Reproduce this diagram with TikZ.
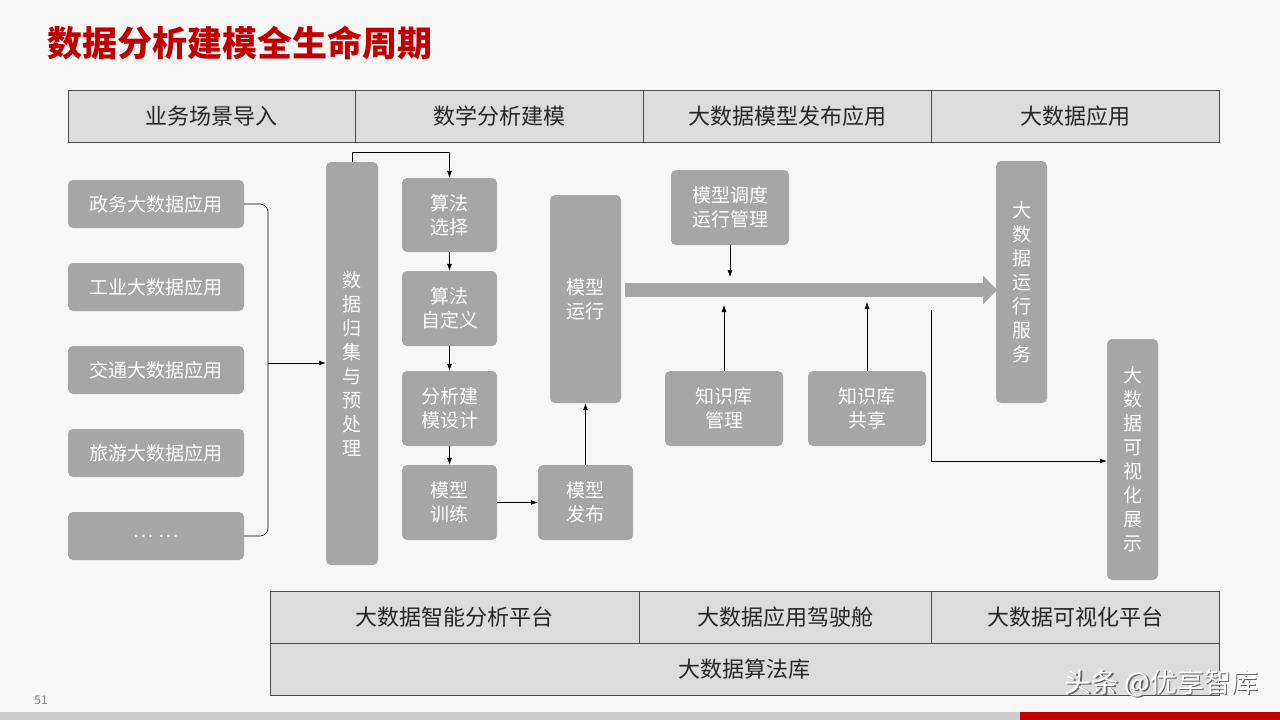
\documentclass[tikz,border=0pt]{standalone}
\usepackage{fontspec}
\setmainfont{Noto Sans CJK SC}
\usetikzlibrary{arrows.meta}
\definecolor{boxg}{HTML}{A6A6A6}
\definecolor{hdr}{HTML}{DCDCDC}
\definecolor{ttl}{HTML}{C00000}
\begin{document}
\begin{tikzpicture}[x=1pt,y=-1pt,
 gbox/.style={draw=none,fill=boxg,rounded corners=5pt,text=white,font=\fontsize{19}{24}\selectfont,align=center,inner sep=0pt},
 cell/.style={draw=black!70,fill=hdr,font=\fontsize{22}{26}\selectfont,text=black!85,inner sep=0pt},
 ar/.style={-{Latex[length=7pt,width=5pt]},black,line width=0.6pt}]
\useasboundingbox (0,0) rectangle (1280,720);
\fill[white!97!black] (0,0) rectangle (1280,720);
\fill[black!20] (0,712) rectangle (1280,720);
\fill[ttl] (1020,712) rectangle (1280,720);
\node[anchor=west,text=ttl,font=\fontsize{35}{38}\selectfont\bfseries] (title) at (44,43) {数据分析建模全生命周期};
\node[text=black!50,font=\fontsize{12}{14}\selectfont] (pg) at (41,700) {51};
% header
\foreach \a/\b/\t/\n in {68/355/业务场景导入/h1,355/643/数学分析建模/h2,643/931/大数据模型发布应用/h3,931/1219/大数据应用/h4}
 \node[cell,minimum width=\b-\a,minimum height=52] (\n) at ({(\a+\b)/2},116) {\t};
% bottom
\node[cell,minimum width=369,minimum height=52] (b1) at (454.5,617) {大数据智能分析平台};
\node[cell,minimum width=292,minimum height=52] (b2) at (785,617) {大数据应用驾驶舱};
\node[cell,minimum width=288,minimum height=52] (b3) at (1075,617) {大数据可视化平台};
\node[cell,minimum width=949,minimum height=52] (b4) at (744.5,669) {大数据算法库};
% left boxes
\foreach \y/\t/\n in {204/政务大数据应用/l1,287/工业大数据应用/l2,370/交通大数据应用/l3,453/旅游大数据应用/l4,536/… …/l5}
 \node[gbox,minimum width=176,minimum height=48] (\n) at (156,\y) {\t};
\draw[black,line width=0.6pt,rounded corners=8pt] (l1.east) -- (268,204) -- (268,536) -- (l5.east);
\coordinate (jn) at (268,363);
% vertical box
\node[gbox,minimum width=52,minimum height=403] (dp) at (352,363.5) {数\\据\\归\\集\\与\\预\\处\\理};
\draw[ar] (jn) -- (dp.west|-jn);
% column
\node[gbox,minimum width=95,minimum height=74] (c1) at (449.5,215) {算法\\选择};
\node[gbox,minimum width=95,minimum height=75] (c2) at (449.5,308.5) {算法\\自定义};
\node[gbox,minimum width=95,minimum height=75] (c3) at (449.5,408.5) {分析建\\模设计};
\node[gbox,minimum width=95,minimum height=75] (c4) at (449.5,502.5) {模型\\训练};
\node[gbox,minimum width=95,minimum height=75] (fb) at (585.5,502.5) {模型\\发布};
\node[gbox,minimum width=71,minimum height=208] (yx) at (585.5,299) {模型\\运行};
\draw[black,line width=0.6pt] (dp.north) -- (352,152) -- (449.5,152);
\draw[ar] (449.5,152) -- (c1.north);
\draw[ar] (c1) -- (c2); \draw[ar] (c2) -- (c3); \draw[ar] (c3) -- (c4);
\draw[ar] (c4) -- (fb);
\draw[ar] (fb) -- (yx);
% big arrow
\coordinate (bs) at (625,290);
\coordinate (be) at (997,290);
\draw[boxg,line width=14pt,-{Triangle[length=14pt,width=28pt]}] (bs) -- (be);
\node[gbox,minimum width=118,minimum height=75] (dd) at (730,207.5) {模型调度\\运行管理};
\node[gbox,minimum width=118,minimum height=75] (zg) at (724,408.5) {知识库\\管理};
\node[gbox,minimum width=118,minimum height=75] (zs) at (867,408.5) {知识库\\共享};
\coordinate (ddt) at (730,277);
\coordinate (zgt) at (724,305);
\coordinate (zst) at (867,302);
\draw[ar] (dd) -- (ddt);
\draw[ar] (zg) -- (zgt);
\draw[ar] (zs) -- (zst);
\node[gbox,minimum width=51,minimum height=242] (rs) at (1021.5,282) {大\\数\\据\\运\\行\\服\\务};
\node[gbox,minimum width=51,minimum height=241] (vs) at (1132.5,459.5) {大\\数\\据\\可\\视\\化\\展\\示};
\coordinate (vl) at (931,310);
\draw[ar] (vl) -- (931,461) -- (vs.west|-0,461);
% watermark
\node[anchor=east,text=black!60,font=\fontsize{27}{30}\selectfont] (wms) at (1263.5,684.5) {头条 @优享智库};
\node[anchor=east,text=white,font=\fontsize{27}{30}\selectfont] (wm) at (1262,683) {头条 @优享智库};
\end{tikzpicture}
\end{document}
